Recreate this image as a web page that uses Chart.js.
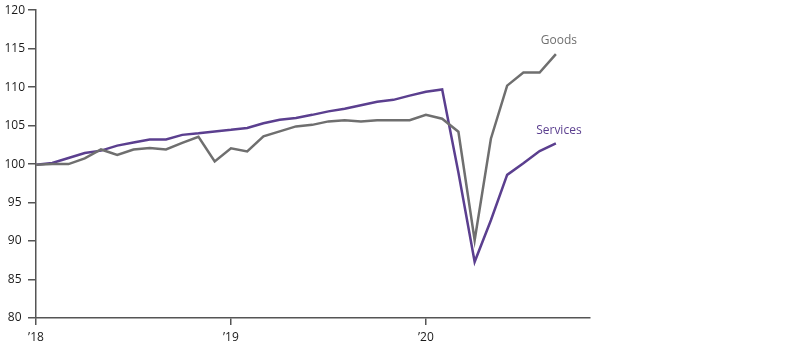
<!DOCTYPE html>
<html>
<head>
<meta charset="utf-8">
<script src="https://cdn.jsdelivr.net/npm/chart.js@4/dist/chart.umd.min.js"></script>
<style>
  html, body { margin: 0; padding: 0; background: #fff; }
  #wrap { width: 800px; height: 346px; }
</style>
</head>
<body>
<div id="wrap"><canvas id="spendChart"></canvas></div>
<script>
// monthly index, Jan 2018 = 100, Jan 2018 .. Sep 2020
var goods = [99.9, 100.0, 100.0, 100.75, 101.9, 101.2, 101.9, 102.1, 101.9, 102.75, 103.55, 100.35,
             102.05, 101.65, 103.6, 104.25, 104.9, 105.1, 105.55, 105.7, 105.55, 105.7, 105.7, 105.7,
             106.4, 105.9, 104.2, 90.1, 103.3, 110.2, 111.9, 111.9, 114.3];
var services = [99.9, 100.15, 100.8, 101.45, 101.75, 102.4, 102.8, 103.2, 103.2, 103.8, 104.0, 104.25,
                104.45, 104.7, 105.3, 105.75, 106.0, 106.4, 106.85, 107.2, 107.65, 108.1, 108.35, 108.9,
                109.4, 109.7, 98.9, 87.3, 92.7, 98.6, 100.1, 101.7, 102.7];
var yearTicks = [0, 12, 24];
var yearLabels = ['\u201918', '\u201919', '\u201920'];

var goodsColor = '#6f6f6f';
var servicesColor = '#5b3f8f';
var axisColor = '#555555';

function toPoints(arr) {
    return arr.map(function (v, i) { return { x: i, y: v }; });
}

// series name written just above the last point of each line
var endLabels = {
    id: 'endLabels',
    afterDatasetsDraw: function (chart) {
        var ctx = chart.ctx;
        ctx.save();
        ctx.font = '12px "Open Sans"';
        ctx.textAlign = 'center';
        ctx.textBaseline = 'middle';
        chart.data.datasets.forEach(function (ds, i) {
            var pts = chart.getDatasetMeta(i).data;
            var last = pts[pts.length - 1];
            ctx.fillStyle = ds.borderColor;
            ctx.fillText(ds.label, last.x + 3, last.y - 13);
        });
        ctx.restore();
    }
};

var ctx = document.getElementById('spendChart').getContext('2d');
var myChart = new Chart(ctx, {
    type: 'line',
    data: {
        datasets: [
            {
                label: 'Goods',
                data: toPoints(goods),
                borderColor: goodsColor,
                borderWidth: 2.5,
                pointRadius: 0,
                tension: 0
            },
            {
                label: 'Services',
                data: toPoints(services),
                borderColor: servicesColor,
                borderWidth: 2.5,
                pointRadius: 0,
                tension: 0
            }
        ]
    },
    options: {
        responsive: true,
        maintainAspectRatio: false,
        animation: false,
        layout: { padding: { top: 9, right: 210, left: 0, bottom: 0 } },
        plugins: {
            legend: { display: false },
            tooltip: { enabled: false }
        },
        scales: {
            x: {
                type: 'linear',
                min: 0,
                max: 34.1,
                afterBuildTicks: function (axis) {
                    axis.ticks = yearTicks.map(function (v) { return { value: v }; });
                },
                afterFit: function (axis) { axis.height = 28; },
                grid: {
                    display: true,
                    drawOnChartArea: false,
                    drawTicks: true,
                    tickLength: 7,
                    color: axisColor,
                    lineWidth: 1.5
                },
                border: { display: true, color: axisColor, width: 1.5 },
                ticks: {
                    padding: 5,
                    maxRotation: 0,
                    color: '#1a1a1a',
                    font: { family: '"Open Sans"', size: 12 },
                    callback: function (v) { return yearLabels[yearTicks.indexOf(v)]; }
                }
            },
            y: {
                min: 80,
                max: 120,
                afterFit: function (axis) { axis.width = 36; },
                grid: {
                    display: true,
                    drawOnChartArea: false,
                    drawTicks: true,
                    tickLength: 8,
                    color: axisColor,
                    lineWidth: 1.5
                },
                border: { display: true, color: axisColor, width: 1.5 },
                ticks: {
                    stepSize: 5,
                    padding: 3,
                    crossAlign: 'center',
                    color: '#1a1a1a',
                    font: { family: '"Open Sans"', size: 12 }
                }
            }
        }
    },
    plugins: [endLabels]
});
</script>
</body>
</html>
